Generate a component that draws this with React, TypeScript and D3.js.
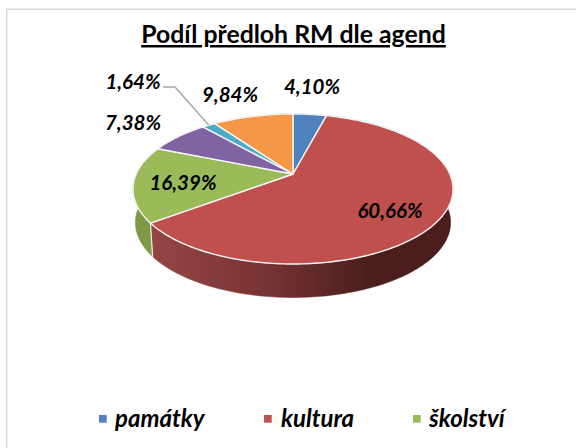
import * as d3 from "d3";

const chartTitle = "Podíl předloh RM dle agend";
const shares = [4.1, 60.66, 16.39, 7.38, 1.64, 9.84];
const sliceColors = ["#4f81bd", "#c0504d", "#9bbb59", "#8064a2", "#4bacc6", "#f79646"];
const sideColors = ["#3b618e", "url(#redSide)", "#7f9a47", "#604b7a", "#388195", "#b97034"];
const legendNames = ["památky", "kultura", "školství"];

const width = 576;
const height = 448;
const font = "Lato, 'Open Sans', sans-serif";

// perspective of the tilted pie
const center = { x: 293, y: 174 };
const radiusX = 156.8;
const radiusY = 72;
const tilt = 0.2;
const depth = 33.5;
const bottomScale = 0.985;

const project = (angle: number, dy = 0, sx = 1): [number, number] => {
  const w = 1 + tilt * Math.cos(angle);
  return [
    center.x + (sx * radiusX * Math.sin(angle)) / w,
    center.y - (radiusY * Math.cos(angle)) / w + dy,
  ];
};

const rim = (a0: number, a1: number, dy = 0, sx = 1) => {
  const n = Math.max(2, Math.ceil((a1 - a0) / 0.02));
  return d3.range(n + 1).map((i) => project(a0 + ((a1 - a0) * i) / n, dy, sx));
};

const line = d3.line();
const arcs = d3.pie<number>().sort(null)(shares);

const labelPos: [number, number][] = [
  [312, 94],
  [390, 218],
  [183, 190],
  [133, 130],
  [133, 89],
  [230, 102],
];
const legendMarkerX = [99, 264, 413];
const legendTextX = [115, 281, 429];

const App = () => (
  <svg
    width={width}
    height={height}
    style={{ position: "absolute", left: 0, top: 0, background: "#fff" }}
  >
    <defs>
      <linearGradient id="redSide" gradientUnits="userSpaceOnUse" x1="150" x2="453" y1="0" y2="0">
        <stop offset="0" stopColor="#954644" />
        <stop offset="0.35" stopColor="#7a3533" />
        <stop offset="0.72" stopColor="#4b1e1d" />
        <stop offset="1" stopColor="#4a1d1c" />
      </linearGradient>
    </defs>
    <path d={`M${width},9.2H6.7V${height}`} fill="none" stroke="#d9d9d9" strokeWidth={1.5} />

    <text
      x={293.5}
      y={43}
      textAnchor="middle"
      fontFamily={font}
      fontWeight={700}
      fontSize={24.8}
      fill="#000"
      textDecoration="underline"
    >
      {chartTitle}
    </text>

    {arcs.map((d, i) => {
      const top = rim(d.startAngle, d.endAngle);
      const bottom = rim(d.startAngle, d.endAngle, depth, bottomScale).reverse();
      return (
        <path
          key={`side-${i}`}
          d={line([...top, ...bottom]) + "Z"}
          fill={sideColors[i]}
          stroke={sideColors[i]}
          strokeWidth={0.5}
        />
      );
    })}
    {/* cut between the green and the red side */}
    <path
      d={line([project(arcs[1].endAngle), project(arcs[1].endAngle, depth, bottomScale)]) ?? ""}
      stroke="#ececec"
      strokeWidth={1.2}
    />
    {arcs.map((d, i) => (
      <path
        key={`top-${i}`}
        d={line([[center.x, center.y], ...rim(d.startAngle, d.endAngle)]) + "Z"}
        fill={sliceColors[i]}
        stroke="#f5f5f5"
        strokeWidth={1.4}
        strokeLinejoin="round"
      />
    ))}

    <path
      d={line([[163, 87], [175, 87], project(arcs[4].startAngle / 2 + arcs[4].endAngle / 2)]) ?? ""}
      fill="none"
      stroke="#a6a6a6"
      strokeWidth={1.4}
    />

    {shares.map((v, i) => (
      <text
        key={`label-${i}`}
        x={labelPos[i][0]}
        y={labelPos[i][1]}
        textAnchor="middle"
        fontFamily={font}
        fontWeight={700}
        fontStyle="italic"
        fontSize={20.5}
        fill="#000"
      >
        {v.toFixed(2).replace(".", ",")}%
      </text>
    ))}

    {legendNames.map((name, i) => (
      <g key={name}>
        <rect x={legendMarkerX[i]} y={415} width={7.7} height={7.7} fill={sliceColors[i]} />
        <text
          x={legendTextX[i]}
          y={426.5}
          fontFamily={font}
          fontWeight={700}
          fontStyle="italic"
          fontSize={24}
          fill="#000"
        >
          {name}
        </text>
      </g>
    ))}
  </svg>
);

export default App;
